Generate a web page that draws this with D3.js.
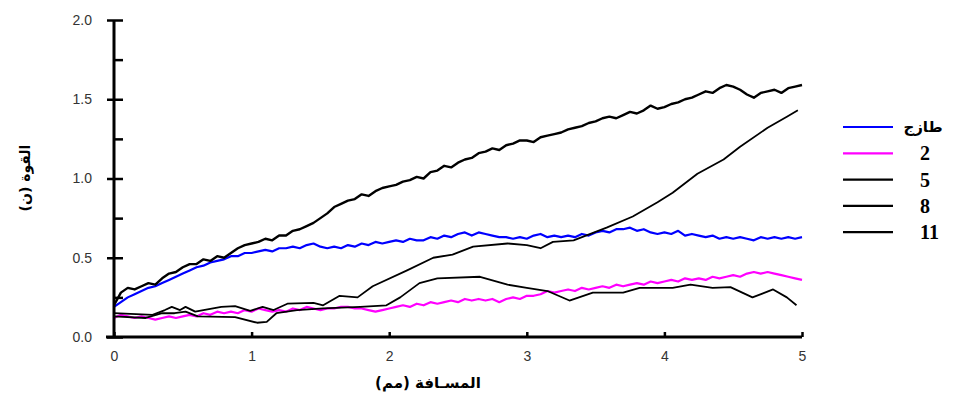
<!DOCTYPE html>
<html>
<head>
<meta charset="utf-8">
<script src="https://cdn.jsdelivr.net/npm/d3@7"></script>
<style>
  body { margin: 0; background: #fff; }
  svg { display: block; }
</style>
</head>
<body>
<div id="chart"></div>
<script>
// sampled every 0.05 mm from 0 to 5
var step = 0.05;
var fresh = [0.19,0.22,0.25,0.27,0.29,0.31,0.32,0.34,0.36,0.38,0.40,0.42,0.44,0.45,0.47,0.48,0.49,0.51,0.51,0.53,
  0.53,0.54,0.55,0.54,0.56,0.56,0.57,0.56,0.58,0.59,0.57,0.56,0.57,0.56,0.58,0.57,0.59,0.58,0.60,0.59,
  0.60,0.61,0.60,0.62,0.61,0.61,0.63,0.62,0.64,0.63,0.65,0.66,0.64,0.66,0.65,0.64,0.63,0.63,0.62,0.63,
  0.62,0.64,0.65,0.63,0.64,0.63,0.64,0.63,0.65,0.64,0.66,0.67,0.66,0.68,0.68,0.69,0.67,0.68,0.66,0.65,
  0.66,0.65,0.67,0.64,0.65,0.64,0.63,0.64,0.62,0.63,0.62,0.63,0.62,0.61,0.63,0.62,0.63,0.62,0.63,0.62,0.63];
var day2 = [0.12,0.14,0.13,0.12,0.13,0.12,0.11,0.12,0.13,0.12,0.13,0.14,0.13,0.15,0.14,0.16,0.15,0.16,0.15,0.17,
  0.16,0.18,0.17,0.16,0.17,0.16,0.18,0.17,0.19,0.18,0.17,0.18,0.18,0.19,0.19,0.18,0.18,0.17,0.16,0.17,
  0.18,0.19,0.20,0.19,0.21,0.20,0.22,0.21,0.22,0.23,0.22,0.24,0.23,0.24,0.23,0.24,0.22,0.24,0.25,0.24,
  0.26,0.26,0.27,0.29,0.28,0.29,0.30,0.29,0.31,0.30,0.31,0.32,0.31,0.33,0.32,0.33,0.34,0.33,0.35,0.34,
  0.35,0.36,0.35,0.37,0.36,0.37,0.36,0.38,0.37,0.38,0.39,0.38,0.40,0.41,0.40,0.41,0.40,0.39,0.38,0.37,0.36];
var day11 = [0.20,0.28,0.31,0.30,0.32,0.34,0.33,0.37,0.40,0.41,0.44,0.46,0.46,0.49,0.48,0.51,0.50,0.53,0.56,0.58,
  0.59,0.60,0.62,0.61,0.64,0.64,0.67,0.68,0.70,0.72,0.75,0.78,0.82,0.84,0.86,0.87,0.90,0.89,0.92,0.94,
  0.95,0.96,0.98,0.99,1.01,1.00,1.04,1.05,1.08,1.07,1.10,1.12,1.13,1.16,1.17,1.19,1.18,1.21,1.22,1.24,
  1.24,1.23,1.26,1.27,1.28,1.29,1.31,1.32,1.33,1.35,1.36,1.38,1.39,1.38,1.40,1.42,1.41,1.43,1.46,1.44,
  1.45,1.47,1.48,1.50,1.51,1.53,1.55,1.54,1.57,1.59,1.58,1.56,1.53,1.51,1.54,1.55,1.56,1.54,1.57,1.58,1.59];
// smoother curves, [mm, N]
var day8 = [[0,0.15],[0.28,0.14],[0.37,0.17],[0.42,0.19],[0.48,0.17],[0.52,0.19],[0.59,0.16],[0.78,0.19],
  [0.88,0.195],[0.99,0.165],[1.08,0.19],[1.16,0.17],[1.26,0.21],[1.45,0.215],[1.52,0.20],[1.64,0.26],
  [1.77,0.25],[1.88,0.32],[2.13,0.42],[2.32,0.50],[2.46,0.52],[2.61,0.57],[2.86,0.59],[3.0,0.58],
  [3.10,0.56],[3.19,0.60],[3.34,0.61],[3.58,0.69],[3.77,0.76],[3.95,0.85],[4.06,0.91],[4.24,1.03],
  [4.43,1.12],[4.55,1.20],[4.75,1.32],[4.89,1.39],[4.97,1.43]];
var day5 = [[0,0.13],[0.23,0.12],[0.35,0.15],[0.44,0.15],[0.52,0.16],[0.61,0.13],[0.88,0.125],[1.04,0.09],
  [1.11,0.095],[1.18,0.15],[1.33,0.17],[1.52,0.18],[1.79,0.19],[1.98,0.20],[2.08,0.25],[2.22,0.34],
  [2.35,0.37],[2.66,0.38],[2.86,0.33],[3.0,0.31],[3.15,0.29],[3.31,0.23],[3.48,0.28],[3.70,0.28],
  [3.82,0.31],[4.06,0.31],[4.19,0.33],[4.35,0.31],[4.48,0.315],[4.64,0.25],[4.79,0.30],[4.89,0.25],[4.96,0.20]];

var legendLabels = ['طازج', '2', '5', '8', '11'];
var legendColors = ['#0000ff', '#ff00ff', '#000', '#000', '#000'];
var xTicks = [0, 1, 2, 3, 4, 5];
var yTicks = [0, 0.5, 1, 1.5, 2];
var yMinor = [0.25, 0.75, 1.25, 1.75];

function sampled(vals) {
  return vals.map(function(v, i) { return [i * step, v]; });
}

var width = 955, height = 399;
var svg = d3.select('#chart').append('svg').attr('width', width).attr('height', height);

var x = d3.scaleLinear().domain([0, 5]).range([114, 802]);
var y = d3.scaleLinear().domain([0, 2]).range([337, 20]);

var line = d3.line()
  .x(function(d) { return x(d[0]); })
  .y(function(d) { return y(d[1]); });

var series = [
  { data: sampled(fresh), color: '#0000ff', w: 2.2 },
  { data: sampled(day2), color: '#ff00ff', w: 2.2 },
  { data: day5, color: '#000', w: 1.8 },
  { data: day8, color: '#000', w: 1.8 },
  { data: sampled(day11), color: '#000', w: 2.4 }
];

svg.append('g').selectAll('path')
  .data(series)
  .enter().append('path')
  .attr('d', function(d) { return line(d.data); })
  .attr('fill', 'none')
  .attr('stroke', function(d) { return d.color; })
  .attr('stroke-width', function(d) { return d.w; })
  .attr('stroke-linejoin', 'round');

// y axis, major ticks crossing the line
var yAxis = svg.append('g')
  .attr('transform', 'translate(' + x(0) + ',0)')
  .call(d3.axisLeft(y).tickValues(yTicks).tickSize(7).tickPadding(15).tickFormat(d3.format('.1f')));
yAxis.selectAll('.tick line').attr('x1', 9).attr('stroke-width', 2.5);
yAxis.select('.domain').attr('stroke-width', 3).attr('d', 'M0,' + y(2) + 'V' + y(0));
yAxis.selectAll('text').attr('font-family', 'Liberation Sans, Arial, sans-serif').attr('font-size', 14).attr('fill', '#333');

svg.append('g')
  .attr('transform', 'translate(' + x(0) + ',0)')
  .call(d3.axisRight(y).tickValues(yMinor).tickSize(9).tickFormat(''))
  .call(function(g) { g.select('.domain').remove(); g.selectAll('line').attr('stroke-width', 2.5); });

// x axis, ticks inside
var xAxis = svg.append('g')
  .attr('transform', 'translate(0,' + y(0) + ')')
  .call(d3.axisBottom(x).tickValues(xTicks).tickSize(-5).tickPadding(14).tickFormat(d3.format('d')));
xAxis.select('.domain').attr('stroke-width', 3).attr('d', 'M' + (x(0) - 8) + ',0H' + x(5));
xAxis.selectAll('.tick line').attr('stroke-width', 2.5);
xAxis.selectAll('text').attr('font-family', 'Liberation Sans, Arial, sans-serif').attr('font-size', 14).attr('fill', '#333');

// axis titles
svg.append('text')
  .attr('x', 428).attr('y', 388)
  .attr('text-anchor', 'middle')
  .attr('font-family', 'DejaVu Sans, sans-serif')
  .attr('font-weight', 'bold').attr('font-size', 15)
  .text('المسـافة (مم)');

svg.append('text')
  .attr('transform', 'translate(30,178) rotate(-90)')
  .attr('text-anchor', 'middle')
  .attr('font-family', 'DejaVu Sans, sans-serif')
  .attr('font-weight', 'bold').attr('font-size', 14)
  .text('القوة (ن)');

// legend
var legend = svg.append('g').selectAll('g')
  .data(legendLabels)
  .enter().append('g')
  .attr('transform', function(d, i) { return 'translate(843,' + (127 + i * 26.3) + ')'; });

legend.append('line')
  .attr('x1', 0).attr('x2', 50)
  .attr('stroke', function(d, i) { return legendColors[i]; })
  .attr('stroke-width', 2.2);

legend.append('text')
  .attr('x', function(d, i) { return i === 0 ? 80 : 77; })
  .attr('y', function(d, i) { return i === 0 ? 5 : 7; })
  .attr('text-anchor', function(d, i) { return i === 0 ? 'middle' : 'start'; })
  .attr('font-family', function(d, i) { return i === 0 ? 'DejaVu Sans, sans-serif' : 'Liberation Serif, Times New Roman, serif'; })
  .attr('font-weight', 'bold')
  .attr('font-size', function(d, i) { return i === 0 ? 15 : 20; })
  .text(function(d) { return d; });
</script>
</body>
</html>
